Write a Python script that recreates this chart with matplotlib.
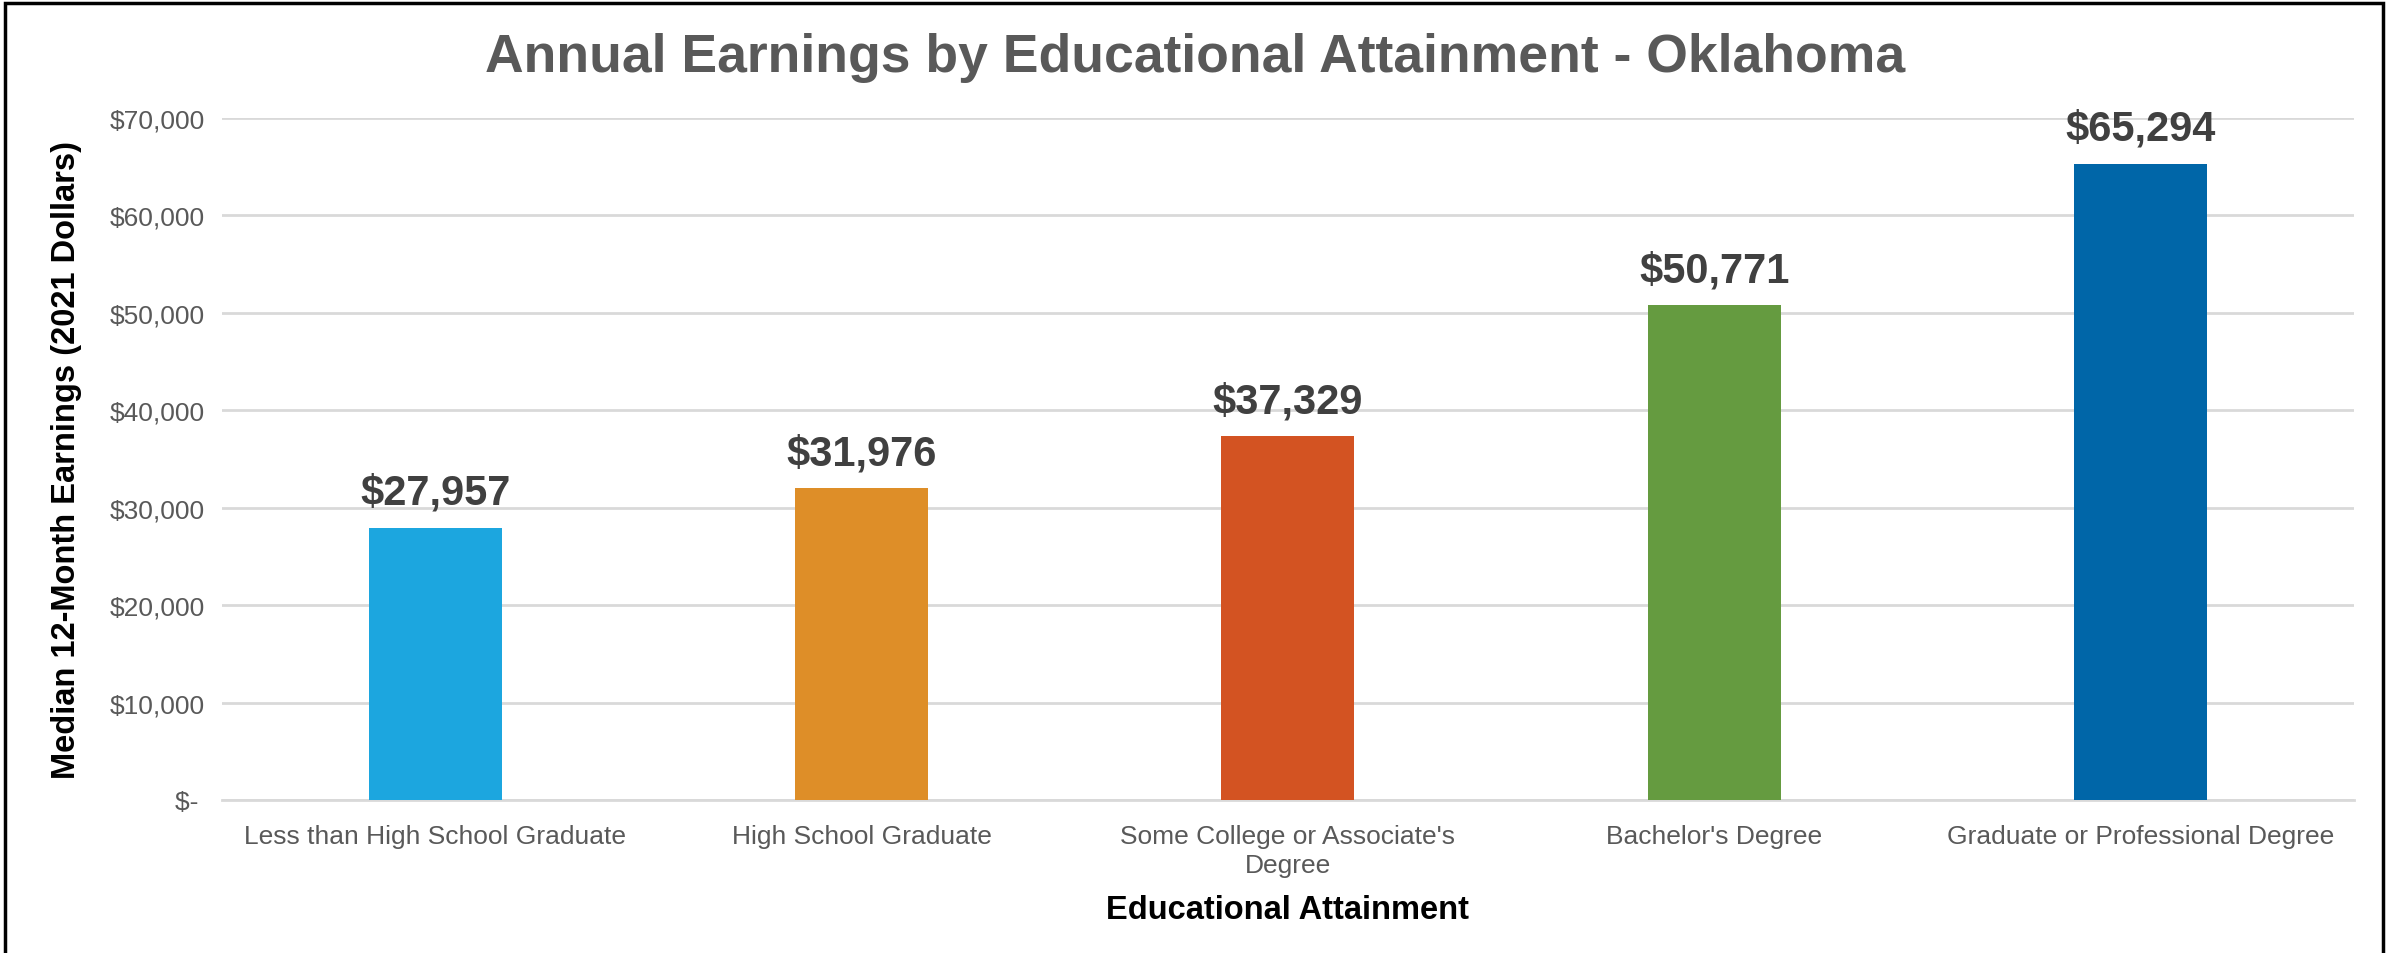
from matplotlib import pyplot as plt
from matplotlib.ticker import FuncFormatter
import numpy

categories = ['Less than High School Graduate', 'High School Graduate',
              "Some College or Associate's\nDegree", "Bachelor's Degree",
              'Graduate or Professional Degree']
earnings = [27957, 31976, 37329, 50771, 65294]
colors = ['#1CA6DF', '#DE8E28', '#D35322', '#659B40', '#0066A8']
y_ticks = [0, 10000, 20000, 30000, 40000, 50000, 60000, 70000]

plt.rcParams['font.family'] = ['Liberation Sans', 'DejaVu Sans']


def money(v, pos=None):
    if v == 0:
        return '$- '
    return '${:,.0f}'.format(v)


fig = plt.figure(figsize=(23.97, 9.54), dpi=100)
ax = fig.add_axes([0.0926, 0.1604, 0.8894, 0.7149])

x = numpy.arange(len(categories))
bars = ax.bar(x, earnings, width=0.312, color=colors, zorder=3)

for b, v in zip(bars, earnings):
    ax.annotate(money(v), (b.get_x() + b.get_width() / 2, v),
                xytext=(0, 11), textcoords='offset points',
                ha='center', va='bottom', fontsize=30,
                fontweight='bold', color='#404040')

ax.set_xlim(-0.5, len(categories) - 0.5)
ax.set_ylim(0, 70000)
ax.set_yticks(y_ticks)
ax.yaxis.set_major_formatter(FuncFormatter(money))
ax.set_xticks(x)
ax.set_xticklabels(categories, linespacing=1.3)
ax.tick_params(axis='both', length=0, labelsize=19, colors='#595959')
ax.tick_params(axis='x', pad=17)
ax.tick_params(axis='y', pad=12)
ax.grid(axis='y', color='#D9D9D9', linewidth=2, zorder=0)
for side in ['top', 'right', 'left']:
    ax.spines[side].set_visible(False)
ax.spines['bottom'].set_color('#D9D9D9')
ax.spines['bottom'].set_linewidth(2)

ax.set_xlabel('Educational Attainment', fontsize=23.5, fontweight='bold',
              color='black', labelpad=12)
ax.set_ylabel('Median 12-Month Earnings (2021 Dollars)', fontsize=23.5,
              fontweight='bold', color='black', labelpad=20)
fig.suptitle('Annual Earnings by Educational Attainment - Oklahoma',
             x=0.4985, y=0.939, va='center', fontsize=38.5,
             fontweight='bold', color='#595959')

fig.patches.append(plt.Rectangle((0.002, -0.01), 0.992, 1.006,
                                 transform=fig.transFigure, fill=False,
                                 edgecolor='black', linewidth=2.5))

plt.savefig('out.png', dpi=100)
plt.close()
